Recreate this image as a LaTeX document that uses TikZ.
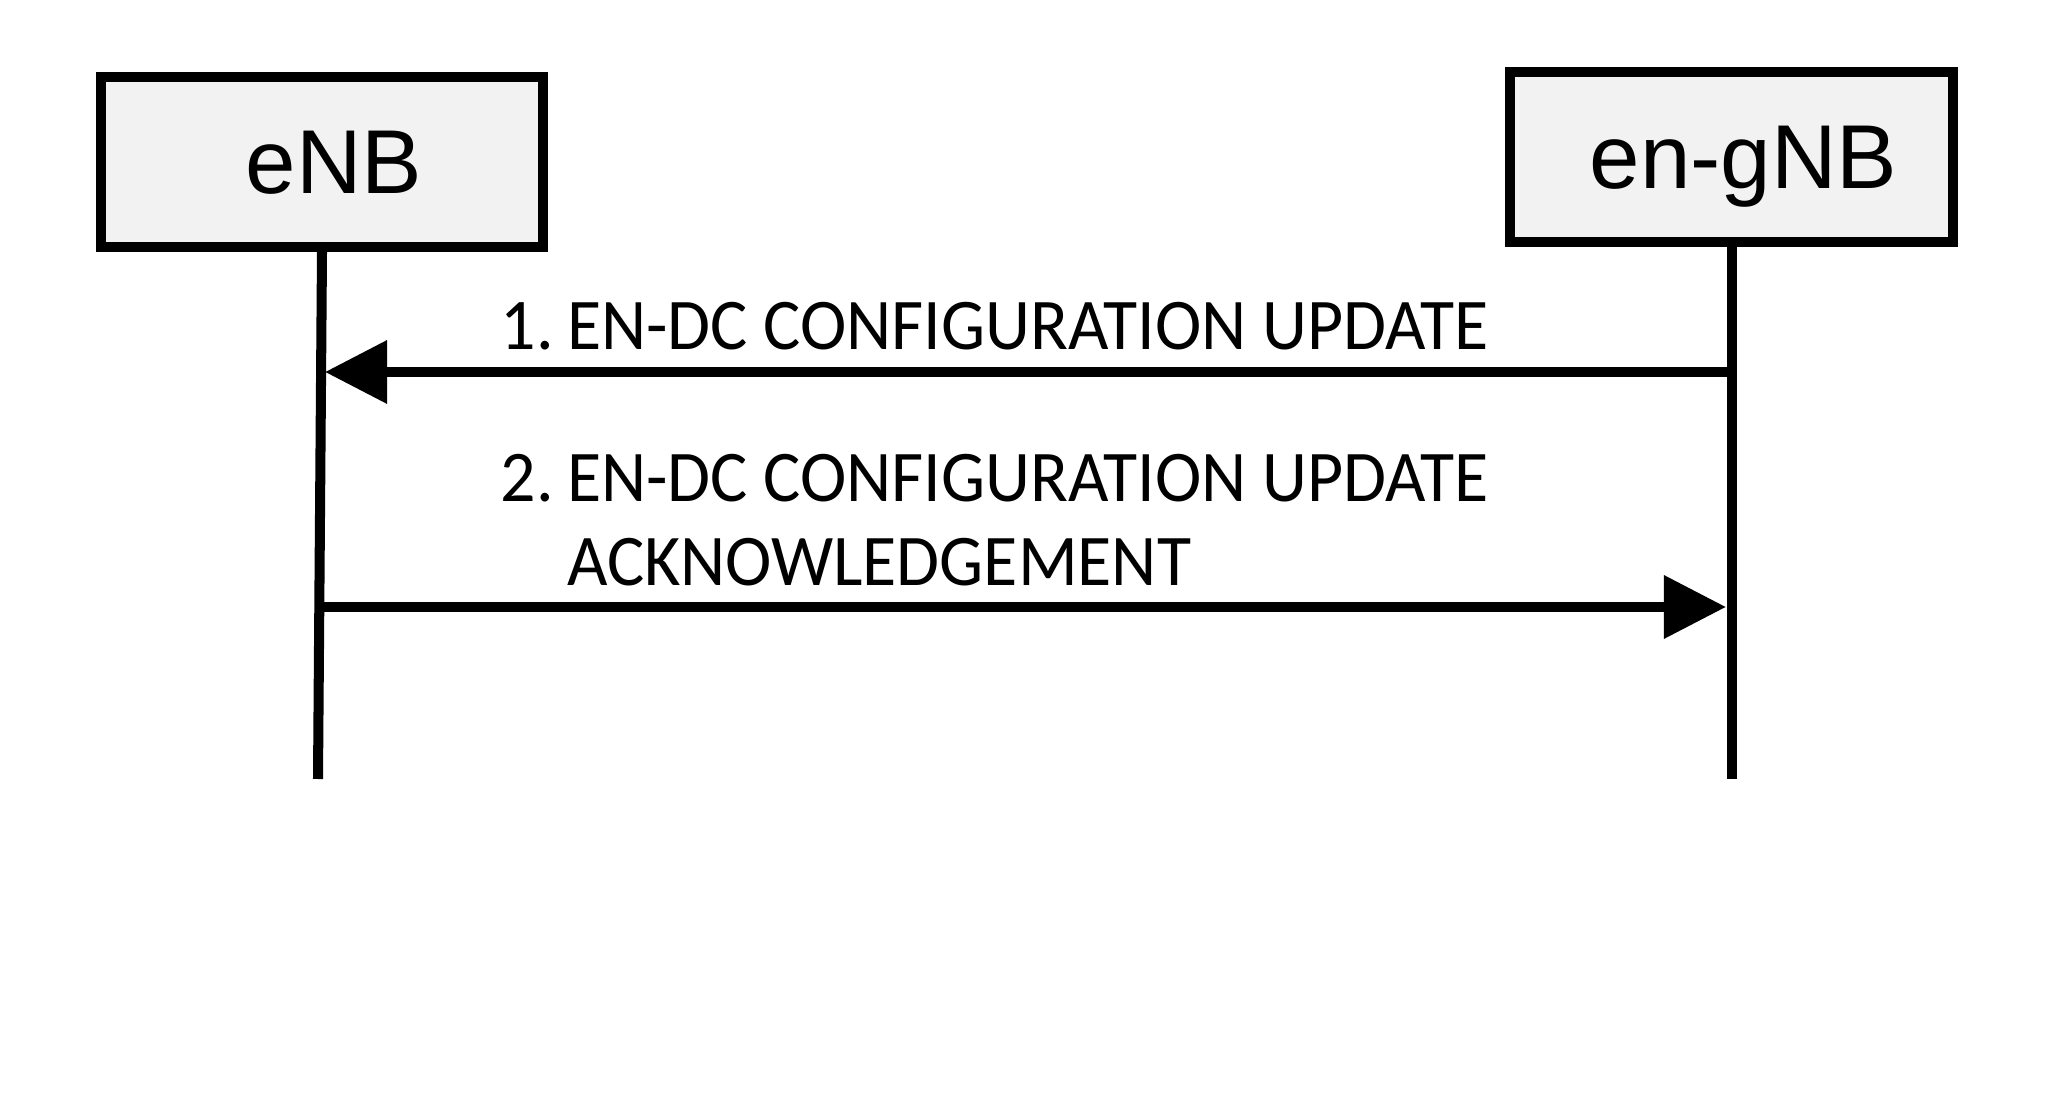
\documentclass[tikz,border=0pt]{standalone}
\usepackage{fontspec}
\setmainfont[FakeStretch=0.96]{Carlito}
\newfontfamily\boxfont{Liberation Sans}
\usepackage{xcolor}
\usepackage{tikz}
\usetikzlibrary{arrows.meta,positioning}
\definecolor{boxgray}{RGB}{242, 242, 242}
\newcommand{\msgno}[1]{#1\kern-0.025cm\ }

\begin{document}
\begin{tikzpicture}[x=0.01cm, y=-0.01cm,
    entity/.style={draw, line width=2.85pt, fill=boxgray, minimum width=4.42cm,
      minimum height=1.70cm, inner sep=0pt, text depth=0pt,
      execute at begin node=\hspace*{2.4mm},
      font=\boxfont\fontsize{25.8}{30}\selectfont},
    lifeline/.style={line width=2.85pt},
    msg/.style={line width=2.85pt, -{Triangle[length=0.62cm,width=0.61cm]}},
    msglabel/.style={anchor=base west, inner sep=0pt, align=left,
      font=\fontsize{20.7}{24.1}\selectfont}]
        \useasboundingbox (0,0) rectangle (2048,1113);
        % entities
        \node[entity] (enb)  at (322,162)    {eNB};
        \node[entity] (gnb)  at (1731.5,157) {en-gNB};
        % lifelines
        \coordinate (enbend) at (318,779);
        \coordinate (gnbend) at (1731.5,779);
        \draw[lifeline] (enb.south) -- (enbend);
        \draw[lifeline] (gnb.south) -- (gnbend);
        % 1. update
        \coordinate (m1from) at (1731.5,372);
        \coordinate (m1to)   at (325,372);
        \draw[msg] (m1from) -- (m1to);
        \node[msglabel] (m1lbl) at (500,350) {\msgno{1.}EN-DC CONFIGURATION UPDATE};
        % 2. acknowledgement (base = last line)
        \coordinate (m2from) at (320,607);
        \coordinate (m2to)   at (1726,607);
        \draw[msg] (m2from) -- (m2to);
        \node[msglabel] (m2lbl) at (500,586)
          {\msgno{2.}EN-DC CONFIGURATION UPDATE\\\hphantom{\msgno{2.}}ACKNOWLEDGEMENT};
      \end{tikzpicture}
\end{document}
